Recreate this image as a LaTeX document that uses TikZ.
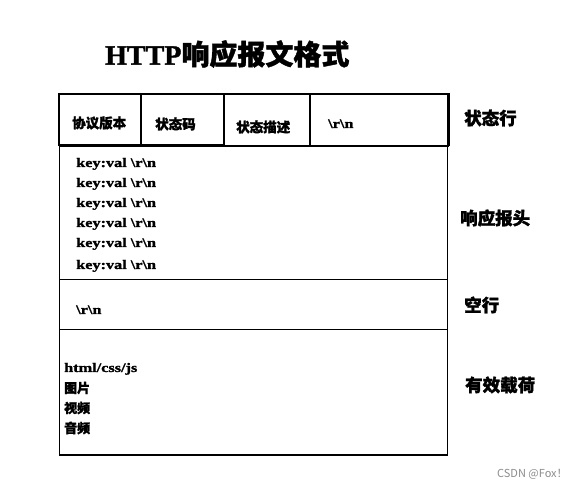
\documentclass[tikz,border=0pt]{standalone}
\usepackage{fontspec}
\setmainfont{Liberation Serif}[BoldFeatures={FakeBold=1.5}]
\newfontfamily\lat{Liberation Serif}[FakeStretch=1.25,BoldFeatures={FakeBold=1.5}]
\newfontfamily\cjk{Noto Sans CJK SC}[BoldFeatures={FakeBold=1.5}]
\newfontfamily\wmfont{Noto Sans CJK SC}
\begin{document}
\begin{tikzpicture}[x=1pt,y=-1pt,
  thickline/.style={line width=2.3pt},
  thinline/.style={line width=1.2pt},
  lt/.style={anchor=base west,inner sep=0pt,font=\lat\bfseries\fontsize{13}{13}\selectfont},
  ck/.style={anchor=west,inner sep=0pt,font=\cjk\bfseries\fontsize{13.5}{13.5}\selectfont},
  side/.style={anchor=west,inner sep=0pt,font=\cjk\bfseries\fontsize{17.5}{17.5}\selectfont},
  body/.style={anchor=west,inner sep=0pt,font=\cjk\bfseries\fontsize{13}{13}\selectfont}]
\useasboundingbox[fill=white] (0,0) rectangle (579,489);
% title
\node[anchor=west,inner sep=0pt] (title) at (105,54)
  {\fontsize{28}{28}\selectfont\bfseries HTTP\cjk 响应报文格式};
% main box
\draw[thinline] (59.5,146) rectangle (447.5,455);
\draw[thinline] (59.5,279.5) -- (447.5,279.5);
\draw[thinline] (59.5,329.5) -- (447.5,329.5);
% status row
\draw[thinline] (224,94) -- (224,146.5);
\draw[thinline] (310,94) -- (310,146.5);
\draw[thinline] (59.5,146.5) -- (448.5,146.5);
\draw[thickline] (59,94) -- (448.5,94) -- (448.5,146.5);
\draw[thickline] (59,94) rectangle (141,145);
\draw[thickline] (141,94) rectangle (224,145);
% status row texts
\node[ck] (ver) at (72,123) {协议版本};
\node[ck] (code) at (155,124) {状态码};
\node[ck] (desc) at (236,127) {状态描述};
\node[lt] (crlf1) at (328,128) {\textbackslash r\textbackslash n};
% headers
\node[lt] (h1) at (76,167) {key:val \textbackslash r\textbackslash n};
\node[lt] (h2) at (76,187) {key:val \textbackslash r\textbackslash n};
\node[lt] (h3) at (76,207) {key:val \textbackslash r\textbackslash n};
\node[lt] (h4) at (76,227) {key:val \textbackslash r\textbackslash n};
\node[lt] (h5) at (76,247) {key:val \textbackslash r\textbackslash n};
\node[lt] (h6) at (76,269) {key:val \textbackslash r\textbackslash n};
% blank line
\node[lt] (crlf2) at (76,314) {\textbackslash r\textbackslash n};
% body
\node[lt] (b1) at (64,372) {html/css/js};
\node[body] (b2) at (64,388) {图片};
\node[body] (b3) at (64,408) {视频};
\node[body] (b4) at (64,428) {音频};
% side labels
\node[side] (s1) at (464,118) {状态行};
\node[side] (s2) at (460,218) {响应报头};
\node[side] (s3) at (464,305) {空行};
\node[side] (s4) at (465,385) {有效载荷};
% watermark
\node[anchor=west,inner sep=0pt,text=black!45,font=\wmfont\fontsize{11}{11}\selectfont] (wm) at (497,474) {CSDN @Fox！};
\end{tikzpicture}
\end{document}
